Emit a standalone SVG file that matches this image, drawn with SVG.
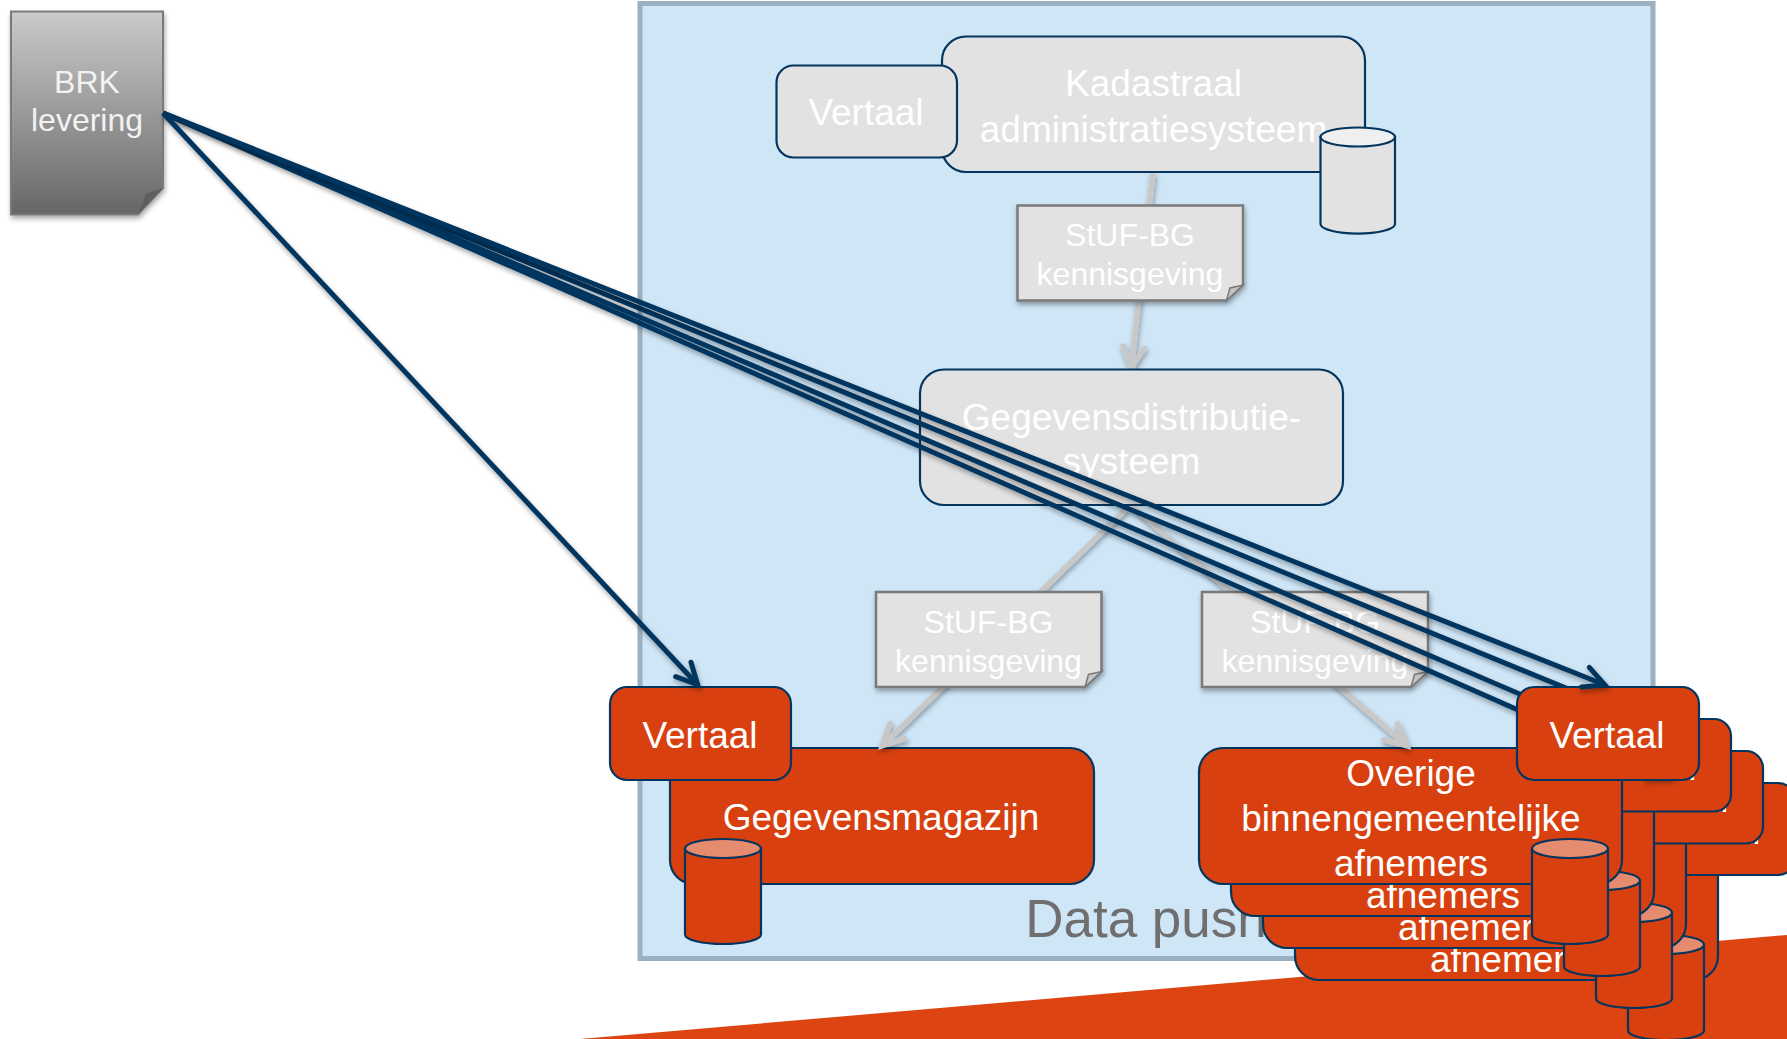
<svg xmlns="http://www.w3.org/2000/svg" width="1787" height="1039" viewBox="0 0 1787 1039">
<style>
text{font-family:"Liberation Sans",Arial,sans-serif;text-anchor:middle;fill:#fff}
.t37{font-size:37px}.t32{font-size:32px}
.r{stroke:#03355e;stroke-width:2.2}
.red{fill:#d8400f}.gray{fill:#e2e2e2}
.topr{fill:#e58b70}.topg{fill:#efefef}
.doc{fill:#e2e2e2;stroke:#7a7a7a;stroke-width:2.5}
.fold{fill:#c4c4c4;stroke:#7a7a7a;stroke-width:1.5}
.gl{stroke:#c8c8c8;stroke-width:5.5;fill:none}
.bl{stroke:#03355e;stroke-width:5;fill:none}
</style>
<defs>
<linearGradient id="brkg" x1="0" y1="0" x2="0" y2="1"><stop offset="0" stop-color="#cbcbcb"/><stop offset="1" stop-color="#666"/></linearGradient>
<filter id="sh" filterUnits="userSpaceOnUse" x="0" y="0" width="1787" height="1039"><feDropShadow dx="1" dy="3" stdDeviation="2.5" flood-color="#000" flood-opacity="0.35"/></filter>
<marker id="ab" markerUnits="userSpaceOnUse" markerWidth="40" markerHeight="40" refX="30" refY="20" orient="auto"><path d="M10,9.5 L31,20 L10,30.5" fill="none" stroke="#03355e" stroke-width="5" stroke-linecap="round"/></marker>
<marker id="ag" markerUnits="userSpaceOnUse" markerWidth="40" markerHeight="40" refX="30" refY="20" orient="auto"><path d="M10,9.5 L31,20 L10,30.5" fill="none" stroke="#c8c8c8" stroke-width="5.5" stroke-linecap="round"/></marker>
<g id="cyl-r"><path class="red r" d="M0,9.5 V95.5 A38,9.5 0 0 0 76,95.5 V9.5 Z"/><ellipse class="topr r" cx="38" cy="9.5" rx="38" ry="9.5"/></g>
<g id="cyl-g"><path class="gray r" d="M0,9.5 V96.5 A37,9.5 0 0 0 74.5,96.5 V9.5 Z"/><ellipse class="topg r" cx="37.25" cy="9.5" rx="37.25" ry="9.5"/></g>
</defs>

<polygon id="band" points="580,1039 1787,935 1787,1039" fill="#dc4512"/>
<g id="frame">
<rect x="640" y="3.5" width="1013" height="955" fill="#cfe6f7" stroke="#9bb0c0" stroke-width="5"/>
<text x="1146" y="937" font-size="53" style="fill:#6f6f6f">Data push</text>
</g>

<g id="afnemers-4">
<rect class="red r" x="1295" y="844" width="423" height="136" rx="24"/>
<text class="t37" x="1507" y="972">afnemers</text>
<rect class="red r" x="1613" y="783" width="182" height="92" rx="17"/>
<text class="t37" x="1703" y="844">Vertaal</text>
<use href="#cyl-r" x="1628" y="935"/>
</g>
<g id="afnemers-3">
<rect class="red r" x="1263" y="812" width="423" height="136" rx="24"/>
<text class="t37" x="1475" y="940">afnemers</text>
<rect class="red r" x="1581" y="751" width="182" height="92.5" rx="17"/>
<text class="t37" x="1671" y="812">Vertaal</text>
<use href="#cyl-r" x="1596" y="903"/>
</g>
<g id="afnemers-2">
<rect class="red r" x="1231" y="780" width="423" height="136" rx="24"/>
<text class="t37" x="1443" y="908">afnemers</text>
<rect class="red r" x="1549" y="719" width="182" height="92.5" rx="17"/>
<text class="t37" x="1639" y="780">Vertaal</text>
<use href="#cyl-r" x="1564" y="871"/>
</g>
<g id="afnemers-1">
<rect class="red r" x="1199" y="748" width="423" height="136" rx="24"/>
<text class="t37" x="1411" y="786">Overige</text>
<text class="t37" x="1411" y="831">binnengemeentelijke</text>
<text class="t37" x="1411" y="876">afnemers</text>
<use href="#cyl-r" x="1532" y="839"/>
</g>
<g id="gegevensmagazijn">
<rect class="red r" x="670" y="748" width="424" height="136" rx="24"/>
<text class="t37" x="881" y="830">Gegevensmagazijn</text>
<use href="#cyl-r" x="685" y="839"/>
</g>
<g id="vertaal-gm">
<rect class="red r" x="610" y="687" width="181" height="93" rx="17"/>
<text class="t37" x="700" y="748">Vertaal</text>
</g>

<g id="connectors-flow" filter="url(#sh)">
<line class="gl" x1="1153" y1="172" x2="1131.5" y2="367" marker-end="url(#ag)"/>
<line class="gl" x1="1127" y1="508" x2="883" y2="745" marker-end="url(#ag)"/>
<line class="gl" x1="1131" y1="505" x2="1406" y2="745" marker-end="url(#ag)"/>
</g>

<g id="kadastraal">
<rect class="gray r" x="942" y="36.5" width="423" height="135.5" rx="24"/>
<text class="t37" x="1153.5" y="96">Kadastraal</text>
<text class="t37" x="1153.5" y="142">administratiesysteem</text>
<use href="#cyl-g" x="1320.5" y="127.5"/>
</g>
<g id="vertaal-kad">
<rect class="gray r" x="776.5" y="65.5" width="180.5" height="92" rx="17"/>
<text class="t37" x="866" y="125">Vertaal</text>
</g>
<g id="distributie">
<rect class="gray r" x="920" y="369.5" width="423" height="135.5" rx="24"/>
<text class="t37" x="1131.5" y="430">Gegevensdistributie-</text>
<text class="t37" x="1131.5" y="474">systeem</text>
</g>
<g id="stuf-1">
<path class="doc" filter="url(#sh)" d="M1017.5,205.5 H1243 V285 L1226.5,300.5 H1017.5 Z"/>
<path class="fold" d="M1226.5,300.5 L1230,288 L1243,285 Z"/>
<text class="t32" x="1130" y="246">StUF-BG</text>
<text class="t32" x="1130" y="285">kennisgeving</text>
</g>
<g id="stuf-2">
<path class="doc" filter="url(#sh)" d="M876,592 H1101.5 V671.5 L1085,687 H876 Z"/>
<path class="fold" d="M1085,687 L1088.5,674.5 L1101.5,671.5 Z"/>
<text class="t32" x="988.5" y="633">StUF-BG</text>
<text class="t32" x="988.5" y="672">kennisgeving</text>
</g>
<g id="stuf-3">
<path class="doc" filter="url(#sh)" d="M1202,592 H1428 V671.5 L1411,687 H1202 Z"/>
<path class="fold" d="M1411,687 L1414.5,674.5 L1428,671.5 Z"/>
<text class="t32" x="1315" y="633">StUF-BG</text>
<text class="t32" x="1315" y="672">kennisgeving</text>
</g>

<g id="connectors-behind" filter="url(#sh)">
<line class="bl" x1="163" y1="113" x2="1669" y2="776.5" marker-end="url(#ab)"/>
<line class="bl" x1="163" y1="113" x2="1640" y2="745.5" marker-end="url(#ab)"/>
<line class="bl" x1="163" y1="113" x2="1639" y2="718" marker-end="url(#ab)"/>
</g>

<g id="vertaal-1">
<rect class="red r" x="1517" y="687" width="182" height="93" rx="17"/>
<text class="t37" x="1607" y="748">Vertaal</text>
</g>

<g id="brk">
<path filter="url(#sh)" d="M11,11.5 H163 V188 L138,214.5 H11 Z" fill="url(#brkg)" stroke="#7a7a7a" stroke-width="2"/>
<path d="M138,214.5 L146,194 L163,188 Z" fill="#5f5f5f"/>
<text class="t32" x="87" y="93" style="fill:#f2f2f2">BRK</text>
<text class="t32" x="87" y="131" style="fill:#f2f2f2">levering</text>
</g>

<g id="connectors-top" filter="url(#sh)">
<line class="bl" x1="163" y1="113" x2="1604" y2="684.5" marker-end="url(#ab)"/>
<line class="bl" x1="163" y1="113" x2="697" y2="684" marker-end="url(#ab)"/>
</g>
</svg>
